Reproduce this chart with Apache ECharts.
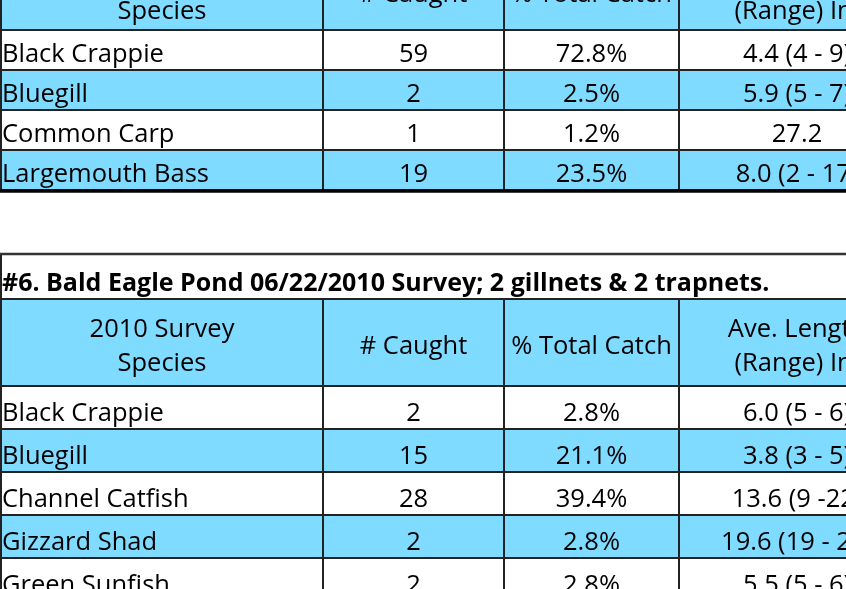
<!DOCTYPE html>
<html>
<head>
<meta charset="utf-8">
<script src="https://cdn.jsdelivr.net/npm/echarts@6/dist/echarts.min.js"></script>
<style>
  html, body { margin: 0; padding: 0; background: #fff; }
  #chart { width: 846px; height: 589px; }
</style>
</head>
<body>
<div id="chart"></div>
<script>
// ---- data: previous survey table (only its lower part is in view)
var table1Header = ['\nSpecies', '# Caught', '% Total Catch', 'Ave. Length\n(Range) In.'];
var table1Species = ['Black Crappie', 'Bluegill', 'Common Carp', 'Largemouth Bass'];
var table1Caught = [59, 2, 1, 19];
var table1Pct = ['72.8%', '2.5%', '1.2%', '23.5%'];
var table1Length = ['4.4 (4 - 9)', '5.9 (5 - 7)', '27.2', '8.0 (2 - 17)'];

// ---- data: #6 Bald Eagle Pond 2010
var table2Title = '#6. Bald Eagle Pond 06/22/2010 Survey; 2 gillnets & 2 trapnets.';
var table2Header = ['2010 Survey\nSpecies', '# Caught', '% Total Catch', 'Ave. Length\n(Range) In.'];
var table2Species = ['Black Crappie', 'Bluegill', 'Channel Catfish', 'Gizzard Shad', 'Green Sunfish'];
var table2Caught = [2, 15, 28, 2, 2];
var table2Pct = ['2.8%', '21.1%', '39.4%', '2.8%', '2.8%'];
var table2Length = ['6.0 (5 - 6)', '3.8 (3 - 5)', '13.6 (9 -22)', '19.6 (19 - 20)', '5.5 (5 - 6)'];

// ---- layout (axis units = page pixels)
var colEdges = [1, 323, 504, 679, 915];
var BLUE = '#7fdbff';
var FONT = '"Open Sans", "Noto Sans", sans-serif';

var cells = [];
function addCell(x0, x1, y0, y1, fill, text, align, bold, textY) {
    cells.push({ x0: x0, x1: x1, y0: y0, y1: y1, fill: fill, text: String(text),
                 align: align, bold: bold, textY: textY });
}

function addTable(t) {
    var y = t.headerTop;
    for (var j = 0; j < 4; j++) {
        addCell(colEdges[j], colEdges[j + 1], y, t.headerBottom, BLUE, t.header[j],
                'center', false, (y + t.headerBottom) / 2 + 4);
    }
    y = t.headerBottom;
    for (var i = 0; i < t.species.length; i++) {
        var fill = i % 2 ? BLUE : '#ffffff';
        var cols = [t.species[i], t.caught[i], t.pct[i], t.length[i]];
        for (var k = 0; k < 4; k++) {
            addCell(colEdges[k], colEdges[k + 1], y, y + t.rowH, fill, cols[k],
                    k === 0 ? 'left' : 'center', false, y + t.rowH - 15);
        }
        y += t.rowH;
    }
}

addTable({ header: table1Header, species: table1Species, caught: table1Caught,
           pct: table1Pct, length: table1Length, headerTop: -49, headerBottom: 30, rowH: 40 });

addCell(colEdges[0], colEdges[4], 254, 299, '#ffffff', table2Title, 'left', true, 299 - 15.5);
addTable({ header: table2Header, species: table2Species, caught: table2Caught,
           pct: table2Pct, length: table2Length, headerTop: 299, headerBottom: 386, rowH: 43 });

var myChart = echarts.init(document.getElementById('chart'));

myChart.setOption({
    animation: false,
    grid: { left: 0, right: 0, top: 0, bottom: 0 },
    xAxis: { type: 'value', min: 0, max: 846, show: false },
    yAxis: { type: 'value', min: 0, max: 589, inverse: true, show: false },
    series: [{
        type: 'custom',
        clip: false,
        data: cells.map(function(c, i) { return [i]; }),
        renderItem: function(params, api) {
            var c = cells[params.dataIndex];
            var p0 = api.coord([c.x0, c.y0]);
            var p1 = api.coord([c.x1, c.y1]);
            var tp = api.coord([c.align === 'left' ? c.x0 + 1 : (c.x0 + c.x1) / 2, c.textY]);
            return {
                type: 'group',
                children: [{
                    type: 'rect',
                    shape: { x: p0[0], y: p0[1], width: p1[0] - p0[0], height: p1[1] - p0[1] },
                    style: { fill: c.fill, stroke: '#222', lineWidth: 2 }
                }, {
                    type: 'text',
                    style: {
                        text: c.text, x: tp[0], y: tp[1],
                        align: c.align, verticalAlign: 'middle',
                        fill: '#000',
                        fontFamily: FONT,
                        fontSize: c.bold ? 25 : 25.5,
                        fontWeight: c.bold ? 'bold' : 'normal',
                        lineHeight: 34.5
                    }
                }]
            };
        }
    }, {
        // heavier rules: bottom of first table, top of second
        type: 'custom',
        clip: false,
        data: [[191, 3.5, 0], [254, 2.5, 1]],
        renderItem: function(params, api) {
            var a = api.coord([colEdges[0] - 1, api.value(0)]);
            var b = api.coord([colEdges[4], api.value(0)]);
            return {
                type: 'line',
                shape: { x1: a[0], y1: a[1], x2: b[0], y2: b[1] },
                style: { stroke: api.value(2) ? '#333' : '#000', lineWidth: api.value(1) }
            };
        }
    }]
});
</script>
</body>
</html>
